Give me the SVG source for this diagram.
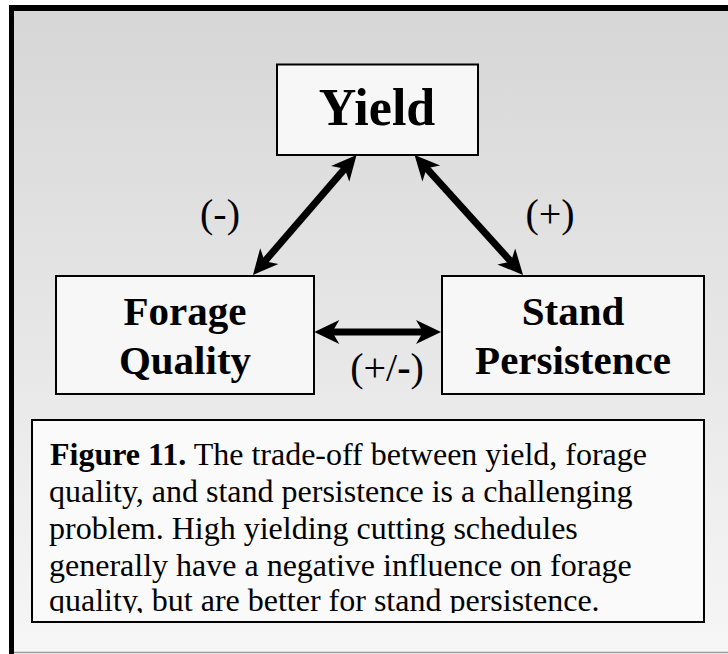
<svg xmlns="http://www.w3.org/2000/svg" width="728" height="654" viewBox="0 0 728 654">
<defs>
<linearGradient id="bg" x1="0" y1="0" x2="0" y2="1">
<stop offset="0" stop-color="#d6d6d6"/>
<stop offset="1" stop-color="#f6f6f6"/>
</linearGradient>
<clipPath id="capclip"><rect x="32" y="420" width="672" height="193"/></clipPath>
<marker id="ah" markerUnits="userSpaceOnUse" viewBox="-14 -13 28 26" markerWidth="28" markerHeight="26" refX="0" refY="0" orient="auto-start-reverse" overflow="visible">
<path d="M12,0 L-13,-12 L-6,0 L-13,12 Z" fill="#000"/>
</marker>
<style>
.box{fill:#f7f7f7;stroke:#000;stroke-width:2}
.lbl{font-family:"Liberation Serif","Times New Roman",serif;font-weight:bold;fill:#000;text-anchor:middle}
.sign{font-family:"Liberation Serif","Times New Roman",serif;font-size:40px;fill:#000;text-anchor:middle}
.cap{font-family:"Liberation Serif","Times New Roman",serif;font-size:32px;fill:#000}
.conn{stroke:#000;stroke-width:7;fill:none;marker-start:url(#ah);marker-end:url(#ah)}
</style>
</defs>
<rect x="0" y="0" width="728" height="654" fill="#fff"/>
<rect x="9" y="5" width="719" height="647" fill="url(#bg)"/>
<rect x="9" y="5" width="719" height="6" fill="#000"/>
<rect x="9" y="5" width="5" height="649" fill="#000"/>
<line x1="14" y1="652.5" x2="728" y2="652.5" stroke="#9a9a9a" stroke-width="1.5"/>

<g id="connectors">
<line class="conn" x1="348.7" y1="164.1" x2="260.8" y2="265.9"/>
<line class="conn" x1="422.6" y1="163.9" x2="515" y2="266.1"/>
<line class="conn" x1="326.3" y1="332" x2="429" y2="332"/>
</g>

<g id="yield">
<rect class="box" x="277" y="64.5" width="201" height="90.5"/>
<text class="lbl" x="377" y="125" font-size="52">Yield</text>
</g>
<g id="forage-quality">
<rect class="box" x="56" y="276" width="258" height="118" stroke-width="1.5"/>
<text class="lbl" x="185" y="325" font-size="41">Forage</text>
<text class="lbl" x="185" y="374" font-size="41">Quality</text>
</g>
<g id="stand-persistence">
<rect class="box" x="442" y="276" width="262" height="118" stroke-width="1.5"/>
<text class="lbl" x="573" y="325" font-size="41">Stand</text>
<text class="lbl" x="573" y="374" font-size="41">Persistence</text>
</g>

<g id="labels">
<text class="sign" x="220" y="227">(-)</text>
<text class="sign" x="550" y="227">(+)</text>
<text class="sign" x="387" y="381" font-size="42">(+/<tspan font-weight="bold">-</tspan>)</text>
</g>

<g id="caption">
<rect x="32" y="420" width="672" height="202" fill="#fafafa" stroke="#000" stroke-width="2"/>
<g clip-path="url(#capclip)">
<text class="cap" x="50" y="465" textLength="597"><tspan font-weight="bold">Figure 11.</tspan> The trade-off between yield, forage</text>
<text class="cap" x="49" y="502">quality, and stand persistence is a challenging</text>
<text class="cap" x="49" y="539">problem. High yielding cutting schedules</text>
<text class="cap" x="49" y="576">generally have a negative influence on forage</text>
<text class="cap" x="49" y="611">quality, but are better for stand persistence.</text>
</g>
</g>
</svg>
